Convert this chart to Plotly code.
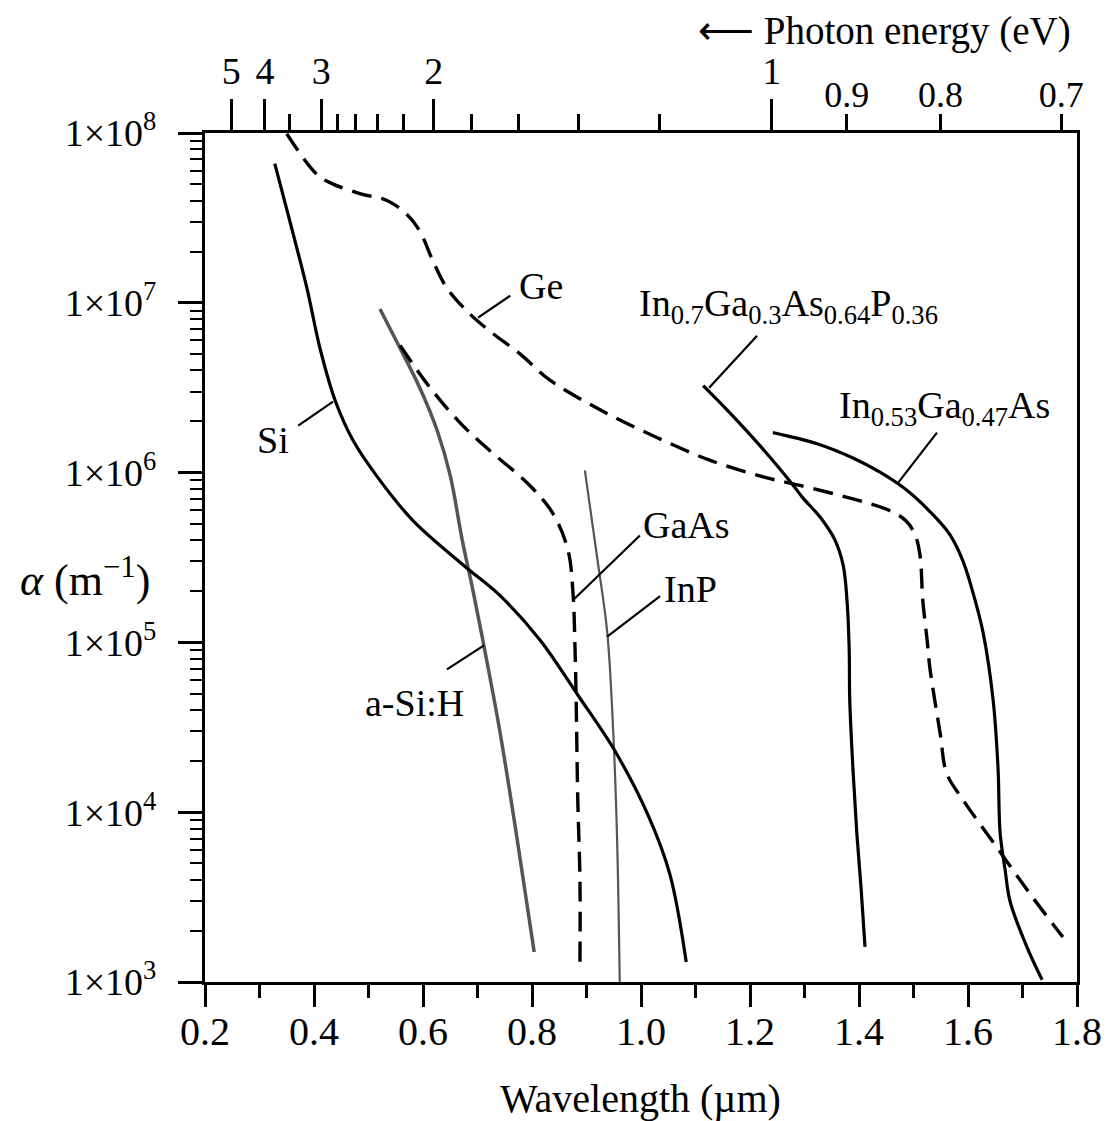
import math
import plotly.graph_objects as go

# ---------------- data ----------------
si_wl = [0.328, 0.356, 0.387, 0.411, 0.439, 0.472, 0.521, 0.582, 0.677, 0.741, 0.815, 0.884, 0.952, 1.013, 1.053, 1.083]
si_alpha = [6.6e7, 3.0e7, 1.22e7, 5.4e6, 2.65e6, 1.54e6, 9.0e5, 5.2e5, 2.8e5, 1.89e5, 1.03e5, 4.9e4, 2.3e4, 9.6e3, 4.3e3, 1.31e3]

ge_wl = [0.350, 0.4055, 0.435, 0.484, 0.534, 0.571, 0.594, 0.618, 0.644, 0.686, 0.728, 0.778, 0.833, 0.930, 1.029,
         1.127, 1.226, 1.292, 1.389, 1.455, 1.486, 1.503, 1.512, 1.517, 1.525, 1.530, 1.549, 1.561, 1.591, 1.653, 1.714, 1.774]
ge_alpha = [9.9e7, 5.7e7, 5.0e7, 4.4e7, 4.0e7, 3.3e7, 2.65e7, 1.77e7, 1.22e7, 8.6e6, 6.6e6, 5.0e6, 3.5e6, 2.3e6, 1.61e6,
            1.18e6, 9.4e5, 8.4e5, 7.0e5, 6.0e5, 5.2e5, 4.3e5, 3.25e5, 1.77e5, 1.03e5, 7.1e4, 2.9e4, 1.69e4, 1.18e4, 6.2e3, 3.3e3, 1.84e3]

ingaasp_wl = [1.114, 1.160, 1.226, 1.277, 1.297, 1.330, 1.356, 1.371, 1.378, 1.382, 1.383, 1.389, 1.396, 1.404, 1.411]
ingaasp_alpha = [3.25e6, 2.3e6, 1.35e6, 8.6e5, 7.1e5, 5.4e5, 4.0e5, 2.84e5, 1.77e5, 9.0e4, 4.6e4, 1.77e4, 7.5e3, 3.5e3, 1.61e3]

ingaas_wl = [1.242, 1.323, 1.389, 1.440, 1.485, 1.530, 1.567, 1.591, 1.613, 1.628, 1.646, 1.655, 1.659, 1.668, 1.677, 1.708, 1.736]
ingaas_alpha = [1.72e6, 1.48e6, 1.22e6, 1.0e6, 8.0e5, 5.9e5, 4.3e5, 3.0e5, 1.77e5, 1.13e5, 4.6e4, 1.84e4, 7.5e3, 4.6e3, 3.0e3, 1.61e3, 1.03e3]

gaas_wl = [0.558, 0.613, 0.673, 0.727, 0.796, 0.839, 0.866, 0.875, 0.879, 0.881, 0.884, 0.888, 0.888]
gaas_alpha = [5.6e6, 3.16e6, 1.89e6, 1.31e6, 8.4e5, 5.7e5, 3.5e5, 2.0e5, 9.0e4, 4.6e4, 1.18e4, 4.0e3, 1.31e3]

asih_wl = [0.521, 0.558, 0.594, 0.626, 0.650, 0.672, 0.692, 0.717, 0.741, 0.772, 0.804]
asih_alpha = [9.2e6, 5.4e6, 3.16e6, 1.77e6, 9.6e5, 4.0e5, 2.0e5, 7.8e4, 3.0e4, 7.2e3, 1.5e3]

inp_wl = [0.897, 0.919, 0.938, 0.949, 0.956, 0.961]
inp_alpha = [1.03e6, 3.25e5, 1.15e5, 3.0e4, 7.2e3, 1.0e3]

# axis ticks
wl_major = [0.2, 0.4, 0.6, 0.8, 1.0, 1.2, 1.4, 1.6, 1.8]
wl_minor = [0.3, 0.5, 0.7, 0.9, 1.1, 1.3, 1.5, 1.7]
alpha_major = [1e3, 1e4, 1e5, 1e6, 1e7, 1e8]
alpha_major_labels = ["1×10<sup>3</sup>", "1×10<sup>4</sup>", "1×10<sup>5</sup>",
                      "1×10<sup>6</sup>", "1×10<sup>7</sup>", "1×10<sup>8</sup>"]
energy_major = [5, 4, 3, 2, 1]
energy_major_labels = ["5", "4", "3", "2", "1"]
energy_minor = [3.5, 2.8, 2.6, 2.4, 2.2, 1.8, 1.6, 1.4, 1.2]
energy_low = [0.9, 0.8, 0.7]
energy_low_labels = ["0.9", "0.8", "0.7"]
HC = 1.2398  # eV·µm, photon energy <-> wavelength

# curve labels: (text, wavelength, alpha)
labels = [
    ("Si", 0.325, 1.55e6),
    ("Ge", 0.8165, 1.26e7),
    ("In<sub>0.7</sub>Ga<sub>0.3</sub>As<sub>0.64</sub>P<sub>0.36</sub>", 1.270, 9.6e6),
    ("In<sub>0.53</sub>Ga<sub>0.47</sub>As", 1.556, 2.4e6),
    ("GaAs", 1.0826, 4.9e5),
    ("InP", 1.090, 2.05e5),
    ("a-Si:H", 0.585, 4.4e4),
]
# pointer lines: (wl0, alpha0, wl1, alpha1)
pointers = [
    (0.371, 1.89e6, 0.435, 2.62e6),
    (0.760, 1.10e7, 0.701, 8.17e6),
    (1.213, 6.40e6, 1.125, 3.16e6),
    (1.543, 1.72e6, 1.472, 8.73e5),
    (0.998, 4.26e5, 0.875, 1.77e5),
    (1.035, 1.87e5, 0.938, 1.08e5),
    (0.644, 6.93e4, 0.712, 9.6e4),
]

FONT = "Liberation Serif"

fig = go.Figure()


def add_curve(wl, a, color, width, dash="solid"):
    fig.add_trace(go.Scatter(
        x=wl, y=a, mode="lines", showlegend=False, hoverinfo="skip",
        line=dict(color=color, width=width, dash=dash, shape="spline", smoothing=1.0)))


add_curve(asih_wl, asih_alpha, "#555555", 3.5)
add_curve(inp_wl, inp_alpha, "#555555", 2.2)
add_curve(si_wl, si_alpha, "black", 3.2)
add_curve(ge_wl, ge_alpha, "black", 3.4, "20px,10px")
add_curve(gaas_wl, gaas_alpha, "black", 3.4, "20px,10px")
add_curve(ingaasp_wl, ingaasp_alpha, "black", 3.2)
add_curve(ingaas_wl, ingaas_alpha, "black", 3.2)

# pointer lines from labels to curves
px, py = [], []
for x0, y0, x1, y1 in pointers:
    px += [x0, x1, None]
    py += [y0, y1, None]
fig.add_trace(go.Scatter(x=px, y=py, mode="lines", showlegend=False, hoverinfo="skip",
                         line=dict(color="black", width=2.2)))

# empty traces so the top energy axes exist
fig.add_trace(go.Scatter(x=[], y=[], xaxis="x2", showlegend=False))
fig.add_trace(go.Scatter(x=[], y=[], xaxis="x3", showlegend=False))

annotations = []
for text, x, y in labels:
    annotations.append(dict(x=x, y=math.log10(y), xref="x", yref="y", text=text, showarrow=False,
                            xanchor="center", yanchor="middle",
                            font=dict(family=FONT, size=38, color="black")))
annotations += [
    dict(x=-0.138, y=0.476, xref="paper", yref="paper", showarrow=False, xanchor="center", yanchor="middle",
         text="<i>α</i> (m<sup>−1</sup>)", font=dict(family=FONT, size=44, color="black")),
    dict(x=0.499, y=-0.137, xref="paper", yref="paper", showarrow=False, xanchor="center", yanchor="middle",
         text="Wavelength (µm)", font=dict(family=FONT, size=40, color="black")),
    dict(x=0.779, y=1.120, xref="paper", yref="paper", showarrow=False, xanchor="center", yanchor="middle",
         text="⟵ Photon energy (eV)", font=dict(family=FONT, size=39, color="black")),
]

# the page places the figure 8 px from the top-left corner, so the size is reduced by that offset
fig.update_layout(
    width=1101, height=1113,
    margin=dict(l=197, r=32, t=125, b=139, autoexpand=False),
    paper_bgcolor="white", plot_bgcolor="white",
    showlegend=False,
    annotations=annotations,
    xaxis=dict(range=[0.2, 1.8], tickmode="array", tickvals=wl_major,
               ticktext=[f"{v:.1f}" for v in wl_major], automargin=False,
               ticks="outside", ticklen=22, tickwidth=2.5, tickcolor="black",
               showline=True, linewidth=3, linecolor="black", mirror=True,
               showgrid=False, zeroline=False, tickfont=dict(family=FONT, size=40, color="black"),
               ticklabelstandoff=-10,
               minor=dict(tickmode="array", tickvals=wl_minor, ticks="outside", ticklen=13,
                          tickwidth=2.5, tickcolor="black", showgrid=False)),
    yaxis=dict(type="log", range=[3, 8], tickmode="array", tickvals=alpha_major,
               ticktext=alpha_major_labels, automargin=False,
               ticks="outside", ticklen=24, tickwidth=2.5, tickcolor="black",
               showline=True, linewidth=3, linecolor="black", mirror=True,
               showgrid=False, zeroline=False, tickfont=dict(family=FONT, size=38, color="black"),
               ticklabelstandoff=14,
               minor=dict(tickmode="array",
                          tickvals=[k * 10 ** n for n in range(3, 8) for k in range(2, 10)],
                          ticks="outside", ticklen=12, tickwidth=2.2, tickcolor="black", showgrid=False)),
    xaxis2=dict(overlaying="x", side="top", range=[0.2, 1.8], tickmode="array", automargin=False,
                tickvals=[HC / e for e in energy_major], ticktext=energy_major_labels,
                ticks="outside", ticklen=33, tickwidth=2.5, tickcolor="black",
                showline=False, showgrid=False, zeroline=False,
                tickfont=dict(family=FONT, size=38, color="black"), ticklabelstandoff=0,
                minor=dict(tickmode="array", tickvals=[HC / e for e in energy_minor], ticks="outside",
                           ticklen=18, tickwidth=2.5, tickcolor="black", showgrid=False)),
    xaxis3=dict(overlaying="x", side="top", range=[0.2, 1.8], tickmode="array", automargin=False,
                tickvals=[HC / e for e in energy_low], ticktext=energy_low_labels,
                ticks="outside", ticklen=18, tickwidth=2.5, tickcolor="black",
                showline=False, showgrid=False, zeroline=False,
                tickfont=dict(family=FONT, size=36, color="black"), ticklabelstandoff=-7),
)

fig.write_html("out.html")
